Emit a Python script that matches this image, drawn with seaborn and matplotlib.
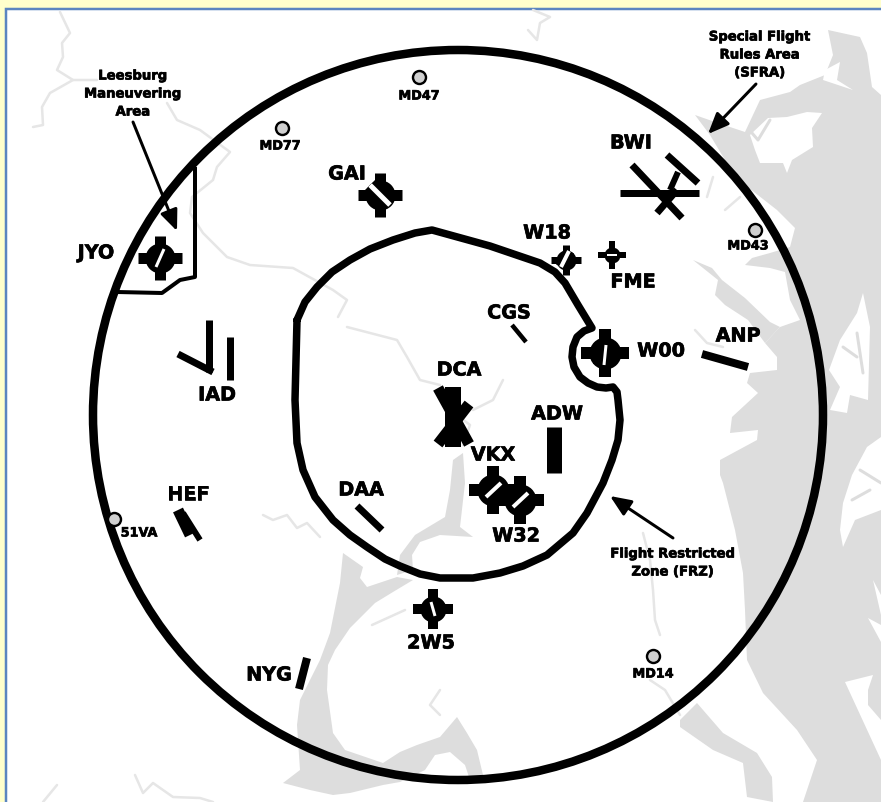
import seaborn as sns
import matplotlib.pyplot as plt
import matplotlib.patheffects as pe
from matplotlib.patches import Circle, Rectangle

# everything in pixel positions (x right, y down)
frz_x = [297, 305, 317, 332, 350, 370, 393, 415, 432, 490, 540, 555, 565, 578, 592, 584, 577, 573, 572, 574, 580, 588, 597, 606, 613, 617, 618, 620, 619, 618, 612, 603, 587, 573, 547, 523, 500, 473, 440, 420, 400, 385, 367, 350, 333, 315, 303, 297, 295, 297]
frz_y = [320, 302, 287, 272, 260, 249, 240, 233, 230, 246, 263, 272, 283, 305, 328, 331, 337, 347, 357, 367, 377, 383, 387, 388, 387, 392, 400, 420, 430, 440, 460, 483, 513, 533, 555, 566, 573, 578, 578, 574, 566, 559, 547, 535, 520, 497, 470, 443, 400, 320]
lma_x = [195, 195, 180, 162, 117]
lma_y = [167, 277, 280, 293, 292]

bay_x = [828, 860, 867, 872, 881, 881, 803, 817, 797, 763, 747, 745, 743, 735, 723, 720, 720, 757, 758, 730, 732, 758, 747, 750, 777, 777, 765, 780, 800, 790, 785, 770, 745, 752, 770, 790, 795, 777, 745, 725, 710, 695, 715, 745, 760, 790, 800, 825, 833]
bay_y = [30, 37, 53, 87, 95, 802, 802, 760, 730, 693, 660, 610, 573, 530, 483, 475, 460, 440, 430, 433, 417, 393, 383, 373, 370, 357, 343, 327, 320, 300, 272, 268, 265, 258, 253, 247, 228, 210, 185, 160, 135, 115, 122, 132, 100, 92, 85, 75, 55]
severn_x = [693, 712, 722, 745, 770, 780, 765, 748, 725, 715, 718]
severn_y = [260, 268, 280, 298, 322, 327, 343, 320, 305, 295, 280]
potomac_x = [343, 363, 360, 367, 397, 413, 393, 375, 350, 335, 328, 327, 333, 345, 383, 400, 417, 440, 457, 467, 477, 483, 470, 465, 450, 435, 425, 400, 383, 350, 333, 310, 283, 300, 297, 300, 320, 330, 340]
potomac_y = [553, 567, 578, 587, 577, 580, 592, 603, 628, 650, 665, 690, 733, 750, 763, 752, 745, 737, 717, 733, 750, 775, 780, 765, 752, 755, 770, 782, 785, 793, 795, 790, 783, 770, 725, 700, 660, 633, 583]
anacostia_x = [453, 463, 465, 460, 473, 440, 420, 412, 413, 397, 400, 415, 445, 450]
anacostia_y = [460, 453, 483, 527, 537, 535, 542, 555, 570, 575, 555, 535, 517, 490]
patuxent_x = [680, 697, 723, 757, 772, 773, 747, 743, 713, 680]
patuxent_y = [720, 703, 733, 753, 777, 802, 797, 763, 750, 727]
land_groups_x = [[750, 768, 787, 807, 822, 812, 813, 792, 787, 783, 760, 755],
                 [825, 840, 837, 853, 823],
                 [863, 857, 840, 829, 840, 830, 847, 850, 868, 870],
                 [881, 867, 852, 843, 840, 843, 855, 881],
                 [873, 881, 881],
                 [868, 881, 881],
                 [845, 873, 868, 868, 881, 881]]
land_groups_y = [[135, 118, 117, 112, 113, 128, 147, 160, 173, 163, 163, 150],
                 [70, 62, 80, 90, 80],
                 [293, 313, 340, 370, 387, 410, 413, 395, 400, 327],
                 [437, 447, 475, 503, 530, 547, 520, 510],
                 [580, 595, 615],
                 [618, 625, 642],
                 [682, 675, 690, 705, 720, 760]]
inlet_x = [[843, 857], [857, 863], [860, 881], [852, 870], [770, 758, 752]]
inlet_y = [[347, 357], [333, 373], [470, 483], [500, 490], [120, 140, 133]]

stream_x = [[60, 70, 62, 63, 57, 73, 97], [73, 50, 42, 43, 33],
            [167, 177, 200, 230, 217, 213, 192, 190, 203, 227, 250, 293, 333, 347, 338],
            [347, 397, 407, 420, 440], [473, 493, 503], [533, 550, 540, 537, 528],
            [57, 43], [135, 143, 153, 173, 200, 213], [263, 273, 287, 297, 307, 320],
            [643, 650, 653, 655, 660], [650, 665, 680], [695, 707, 723], [725, 740], [707, 713],
            [463, 470, 457, 445], [372, 405], [440, 430, 440]]
stream_y = [[12, 33, 43, 57, 70, 80, 80], [80, 93, 107, 125, 127],
            [103, 120, 130, 152, 167, 180, 197, 213, 233, 257, 265, 268, 290, 300, 317],
            [327, 340, 357, 380, 385], [410, 400, 380], [10, 17, 23, 40, 30],
            [785, 802], [775, 793, 783, 797, 798, 802], [515, 520, 515, 528, 523, 537],
            [533, 560, 590, 620, 635], [680, 690, 715], [330, 343, 347], [210, 197], [197, 177],
            [445, 425, 415, 410], [625, 610], [690, 705, 715]]

# runways drawn as plain bars: x pair, y pair, width in px
runway_x = [[632, 682], [620, 699], [667, 698], [678, 670], [657, 677], [512, 526], [702, 748],
            [209, 209], [178, 213], [230, 230], [554, 554], [178, 190], [183, 200], [357, 382], [307, 299],
            [453, 453], [438, 469], [438, 469]]
runway_y = [[165, 218], [193, 193], [155, 183], [172, 190], [213, 190], [325, 342], [354, 367],
            [320, 372], [354, 372], [337, 380], [427, 473], [510, 535], [513, 540], [506, 530], [658, 689],
            [387, 447], [388, 444], [444, 404]]
runway_w = [7, 7, 7, 6, 7, 4.5, 8, 7, 7, 7, 15, 11, 6, 7, 8, 16, 11, 11]

# airfield symbols: centre, disc size, tab length, tab width, stripe ends, stripe width
field_x = [380, 160, 566, 612, 605, 493, 520, 433]
field_y = [195, 258, 260, 255, 353, 490, 500, 609]
field_d = [30, 30, 20, 16, 32, 32, 32, 26]
field_tab = [22, 22, 15, 14, 24, 24, 24, 20]
field_tw = [11, 11, 7, 6, 12, 12, 12, 10]
stripe_x = [[370, 390], [164, 156], [569, 561], [607, 617], [606, 604], [486, 501], [513, 528], [431, 435]]
stripe_y = [[185, 205], [249, 267], [251, 267], [255, 255], [345, 365], [497, 483], [507, 493], [602, 616]]
stripe_w = [5, 3, 4, 2, 3, 4, 4, 3]
capsule_w = [20, 20, 11, 8, 22, 22, 22, 17]

private_x = [419, 282, 755, 653, 114]
private_y = [77, 128, 230, 656, 519]

big_labels = ["JYO", "GAI", "IAD", "W18", "FME", "BWI", "CGS", "W00", "ANP", "DCA", "ADW", "VKX", "W32", "HEF", "DAA", "NYG", "2W5"]
big_x = [96, 347, 217, 547, 633, 631, 509, 661, 738, 459, 557, 493, 516, 188, 361, 269, 431]
big_y = [253, 174, 395, 233, 282, 143, 313, 351, 336, 370, 414, 455, 536, 494, 490, 675, 643]
small_labels = ["MD47", "MD77", "MD43", "MD14", "51VA"]
small_x = [419, 280, 748, 653, 139]
small_y = [96, 146, 246, 674, 533]
note_labels = ["Leesburg\nManeuvering\nArea", "Special Flight\nRules Area\n(SFRA)", "Flight Restricted\nZone (FRZ)"]
note_x = [133, 760, 673]
note_y = [94, 55, 563]
arrow_from = [(133, 122), (756, 84), (673, 538)]
arrow_to = [(177, 231), (708, 134), (610, 496)]

water = "#dddddd"
pt = 0.72

sns.set_theme(style="white")
plt.rcParams["font.family"] = ["DejaVu Sans"]

fig, ax = plt.subplots(figsize=(8.81, 8.02), dpi=100)
fig.subplots_adjust(0, 0, 1, 1)
fig.patch.set_facecolor("#ffffcc")
ax.set_facecolor("none")
ax.set_xlim(0, 881)
ax.set_ylim(802, 0)
ax.axis("off")

ax.add_patch(Rectangle((6, 9), 880, 800, fc="white", ec="#5b85c0", lw=2.5 * pt, zorder=0))

for px, py in [(bay_x, bay_y), (severn_x, severn_y), (potomac_x, potomac_y), (anacostia_x, anacostia_y), (patuxent_x, patuxent_y)]:
    ax.fill(px, py, color=water, lw=0, zorder=1)
for px, py in zip(land_groups_x, land_groups_y):
    ax.fill(px, py, color="white", lw=0, zorder=2)


def stroke(xs, ys, width, color="black", z=6, cap="butt"):
    sns.lineplot(x=xs, y=ys, sort=False, estimator=None, color=color, linewidth=width * pt,
                 solid_capstyle=cap, solid_joinstyle="round", zorder=z, legend=False, ax=ax)


for xs, ys in zip(inlet_x, inlet_y):
    stroke(xs, ys, 3, color=water, z=3, cap="round")
for xs, ys in zip(stream_x, stream_y):
    stroke(xs, ys, 2.5, color="#e6e6e6", z=3, cap="round")

ax.add_patch(Circle((458, 415), 365, fill=False, ec="black", lw=8.5 * pt, zorder=5))
stroke(frz_x, frz_y, 7.5, z=5, cap="round")
stroke(lma_x, lma_y, 4, z=5)

for xs, ys, w in zip(runway_x, runway_y, runway_w):
    stroke(xs, ys, w)

# airport symbol = disc + four tabs + block round the white stripe
for i in range(len(field_x)):
    cx, cy, tab = field_x[i], field_y[i], field_tab[i]
    stroke([cx - tab, cx + tab], [cy, cy], field_tw[i])
    stroke([cx, cx], [cy - tab, cy + tab], field_tw[i])
    sns.scatterplot(x=[cx], y=[cy], s=(field_d[i] * pt) ** 2, color="black", linewidth=0, zorder=6, legend=False, ax=ax)
    stroke(stripe_x[i], stripe_y[i], capsule_w[i], z=6)
    stroke(stripe_x[i], stripe_y[i], stripe_w[i], color="white", z=7)

sns.scatterplot(x=private_x, y=private_y, s=(13 * pt) ** 2, color="#d0d0d0", edgecolor="black", linewidth=2.4 * pt, zorder=6, legend=False, ax=ax)

heavy = [pe.withStroke(linewidth=0.5, foreground="black")]
for s, x, y in zip(big_labels, big_x, big_y):
    ax.text(x, y, s, fontsize=13.8, fontweight="bold", ha="center", va="center", color="black", zorder=8, path_effects=heavy)
for s, x, y in zip(small_labels, small_x, small_y):
    ax.text(x, y, s, fontsize=9.2, fontweight="bold", ha="center", va="center", color="black", zorder=8, path_effects=heavy)
for s, x, y in zip(note_labels, note_x, note_y):
    ax.text(x, y, s, fontsize=9.5, fontweight="bold", ha="center", va="center", color="black", linespacing=1.5, zorder=8, path_effects=heavy)
for a, b in zip(arrow_from, arrow_to):
    ax.annotate("", xy=b, xytext=a, zorder=8,
                arrowprops=dict(arrowstyle="-|>,head_length=0.9,head_width=0.38", mutation_scale=14, lw=3 * pt, color="black", shrinkA=0, shrinkB=0))

fig.savefig("out.png", dpi=100, facecolor=fig.get_facecolor())
